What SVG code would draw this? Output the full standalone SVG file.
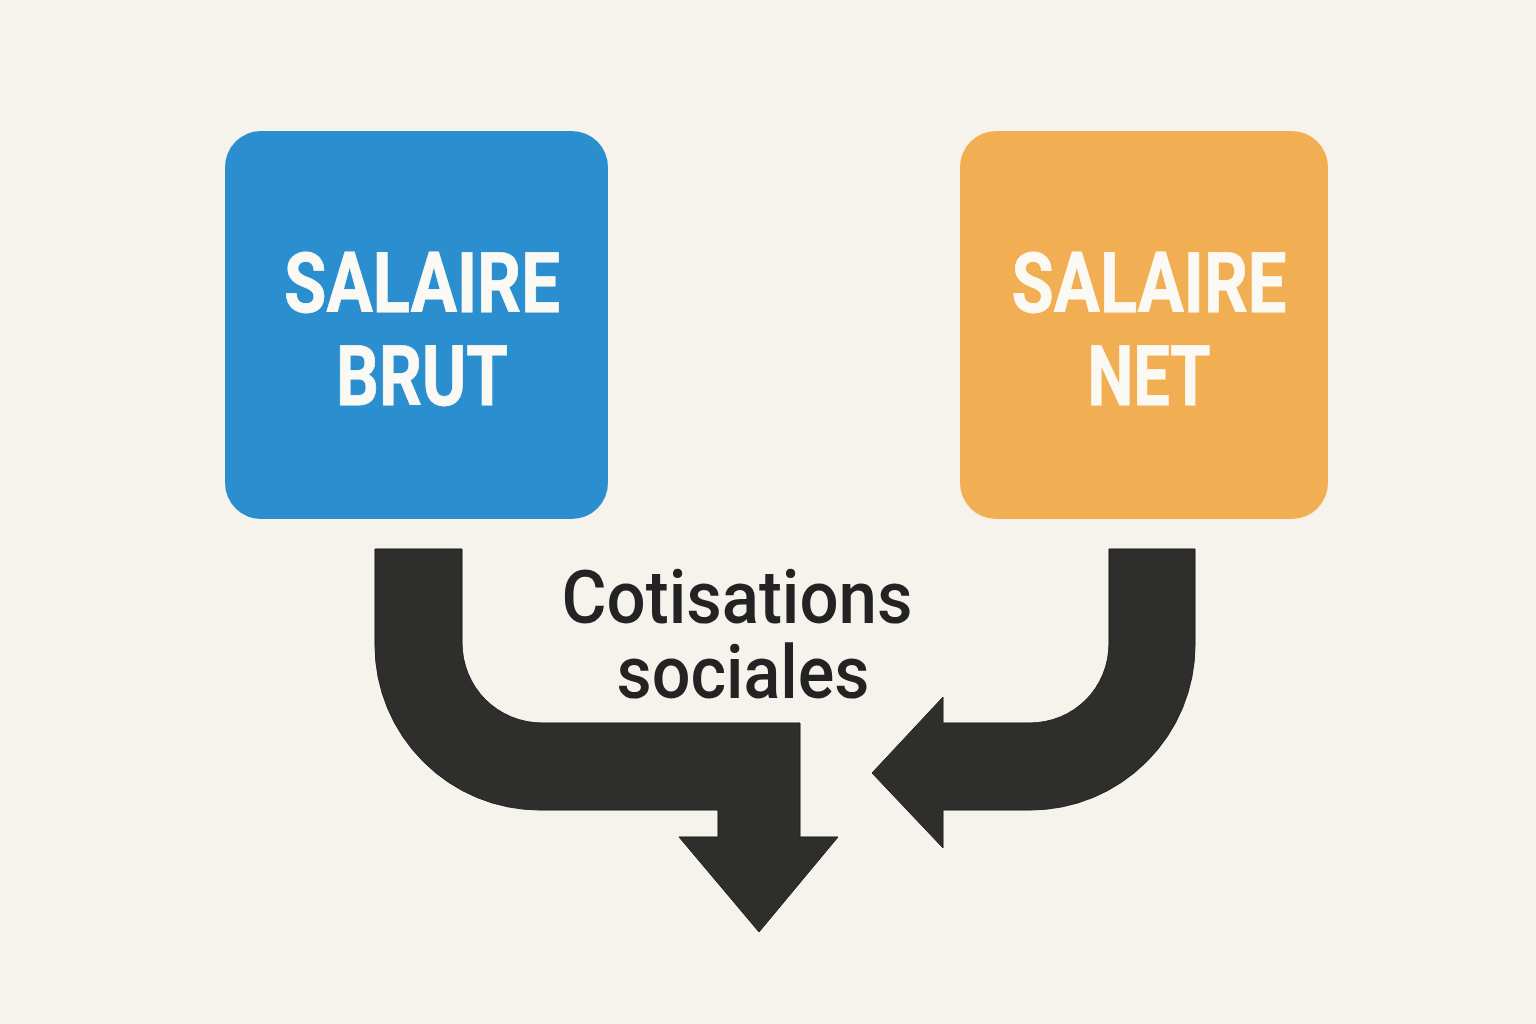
<svg xmlns="http://www.w3.org/2000/svg" width="1536" height="1024" viewBox="0 0 1536 1024">
  <style>
    .box-label { font-family: Roboto, "Liberation Sans", sans-serif; font-weight: 700; font-size: 83px; fill: #fbf9f4; stroke: #fbf9f4; stroke-width: 0.8; text-anchor: middle; }
    .edge-label { font-family: Roboto, "Liberation Sans", sans-serif; font-weight: 500; font-size: 75px; fill: #232323; text-anchor: middle; }
    .arrow { fill: #2e2e2c; stroke: #1f1f1f; stroke-width: 1; }
  </style>
  <rect x="0" y="0" width="1536" height="1024" fill="#f6f3ec"/>
  <g id="node-brut">
    <rect x="225" y="131" width="383" height="388" rx="36" ry="36" fill="#2b8fcf"/>
    <text class="box-label" x="422" y="312" textLength="276" lengthAdjust="spacingAndGlyphs">SALAIRE</text>
    <text class="box-label" x="422" y="405" textLength="172" lengthAdjust="spacingAndGlyphs">BRUT</text>
  </g>
  <g id="node-net">
    <rect x="960" y="131" width="368" height="388" rx="36" ry="36" fill="#f2ae52"/>
    <text class="box-label" x="1149" y="312" textLength="275" lengthAdjust="spacingAndGlyphs">SALAIRE</text>
    <text class="box-label" x="1149" y="405" textLength="123" lengthAdjust="spacingAndGlyphs">NET</text>
  </g>
  <g id="connectors">
    <path class="arrow" d="M375,549 L462,549 L462,643 A80,80 0 0 0 542,723 L800,723 L800,837 L838,837 L759,932 L679,837 L718,837 L718,810 L540,810 A165,165 0 0 1 375,645 Z"/>
    <path class="arrow" d="M1109,549 L1195,549 L1195,645 A165,165 0 0 1 1030,810 L943,810 L943,848 L872,773 L943,697 L943,723 L1030,723 A79,79 0 0 0 1109,644 Z"/>
  </g>
  <g id="label-cotisations">
    <text class="edge-label" x="737" y="623" textLength="351" lengthAdjust="spacingAndGlyphs">Cotisations</text>
    <text class="edge-label" x="743" y="698" textLength="253" lengthAdjust="spacingAndGlyphs">sociales</text>
  </g>
</svg>
